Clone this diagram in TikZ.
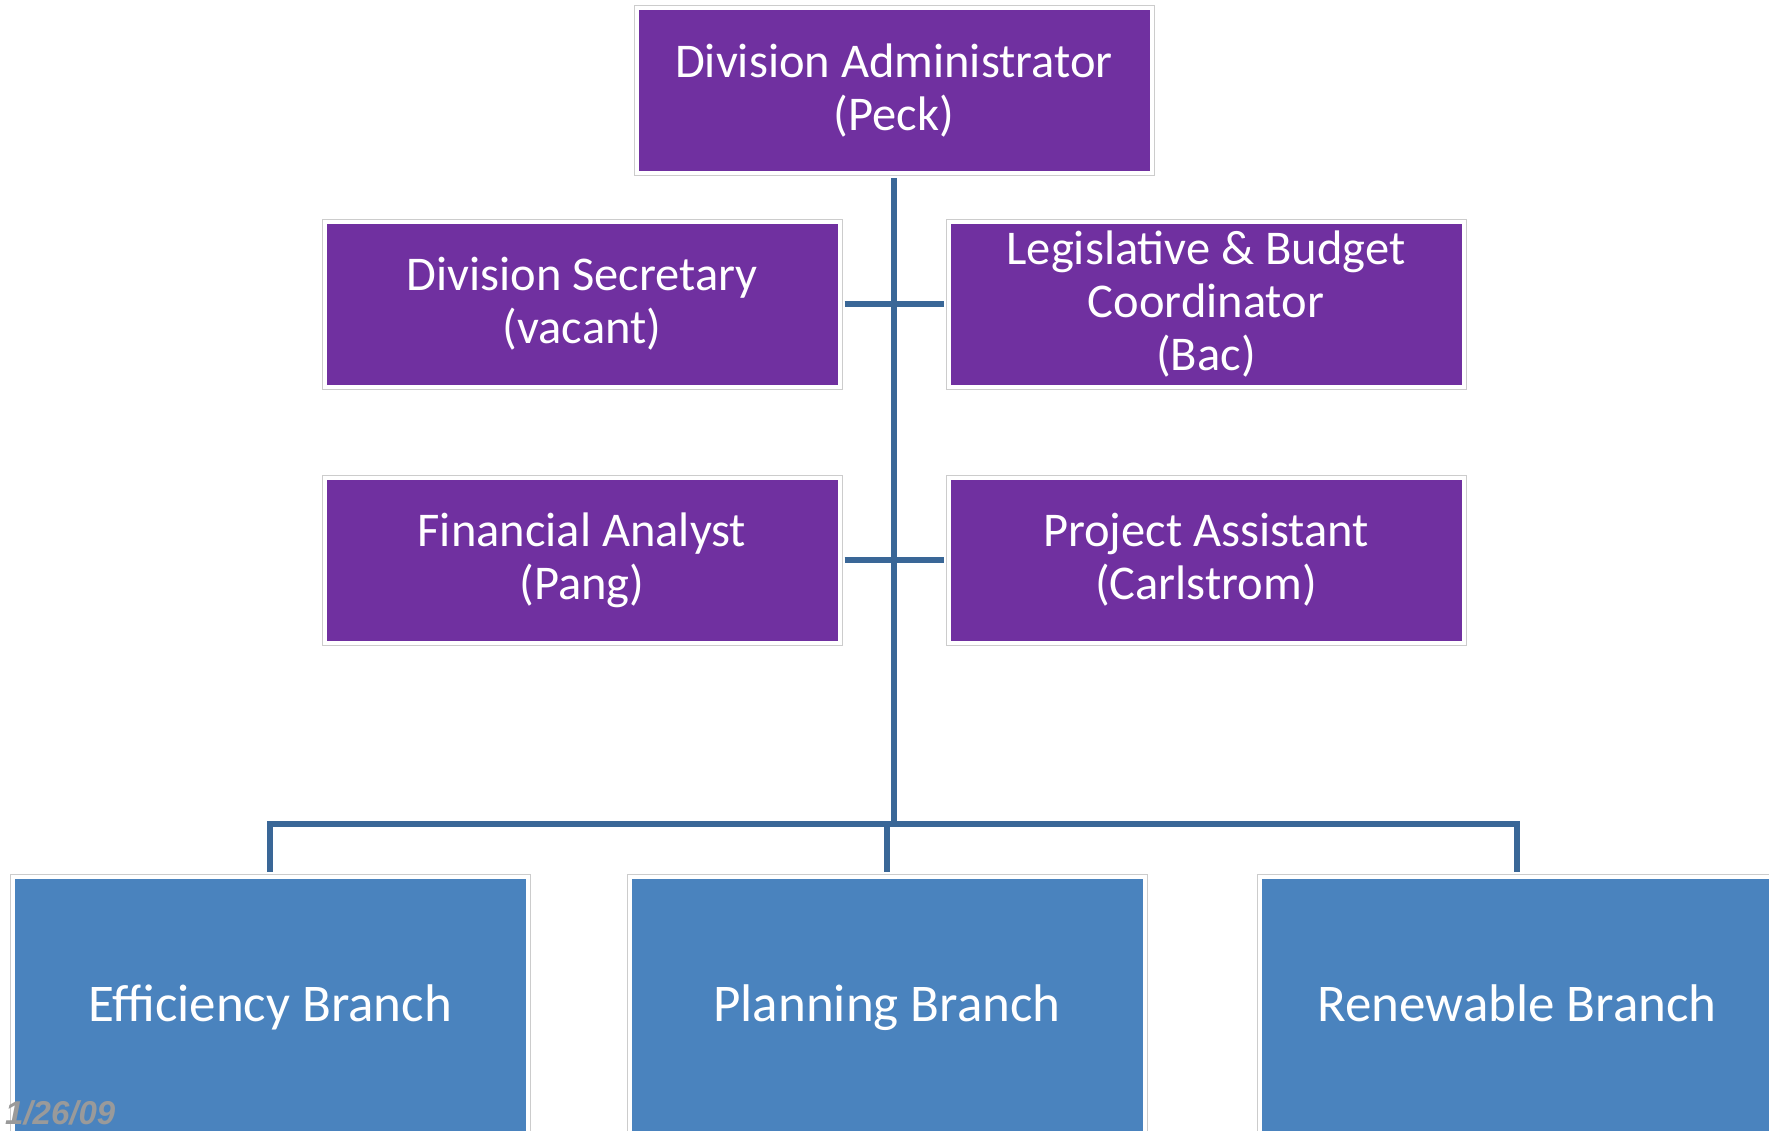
\documentclass[tikz,border=0pt]{standalone}
\usepackage{fontspec}
\setmainfont{Carlito}
\newfontfamily\datefont{Liberation Sans}
\usepackage{xcolor}
\definecolor{boxpurple}{HTML}{7030A0}
\definecolor{boxblue}{HTML}{4A83BE}
\definecolor{linkblue}{HTML}{3A6797}
\definecolor{dategray}{HTML}{9A9A9A}

\begin{document}
\begin{tikzpicture}[x=1pt,y=-1pt,
    card/.style={fill=boxpurple, draw=white, line width=4pt,
        preaction={draw=black!20, line width=6pt},
        minimum width=515pt, minimum height=165pt, inner sep=0pt,
        align=center, text=white, font=\fontsize{48.5}{53}\selectfont},
    branch/.style={card, fill=boxblue, minimum height=265pt,
        text height=37pt, text depth=12pt,
        font=\fontsize{53}{58}\selectfont},
    link/.style={draw=linkblue, line width=5.5pt}]
    \useasboundingbox (0,0) rectangle (1769,1130);
    \clip (0,0) rectangle (1769,1130);
    \fill[white] (0,0) rectangle (1769,1130);

    \node[card] (admin) at (894,90.5) {Division Administrator\\(Peck)};
    \node[card] (secr) at (582,304) {Division Secretary\\(vacant)};
    \node[card] (legis) at (1206,304) {Legislative \& Budget\\Coordinator\\(Bac)};
    \node[card] (fina) at (582,560) {Financial Analyst\\(Pang)};
    \node[card] (proj) at (1206,560) {Project Assistant\\(Carlstrom)};
    \node[branch] (eff) at (270,1009) {Efficiency Branch};
    \node[branch] (plan) at (887,1009) {Planning Branch};
    \node[branch] (renew) at (1517,1009) {Renewable Branch};

    \coordinate (hub) at (894,824);
    \draw[link, shorten <=3pt] (admin.south) -- (hub);
    \draw[link, shorten <=3pt, shorten >=3pt] (secr.east) -- (legis.west);
    \draw[link, shorten <=3pt, shorten >=3pt] (fina.east) -- (proj.west);
    \draw[link, shorten >=3pt] (hub) -| (eff.north);
    \draw[link, shorten >=3pt] (hub) -| (plan.north);
    \draw[link, shorten >=3pt] (hub) -| (renew.north);

    \node[anchor=base west, inner sep=0pt, text=dategray,
        font=\datefont\bfseries\itshape\fontsize{33}{33}\selectfont] (date) at (5,1124) {1/26/09};
\end{tikzpicture}
\end{document}
